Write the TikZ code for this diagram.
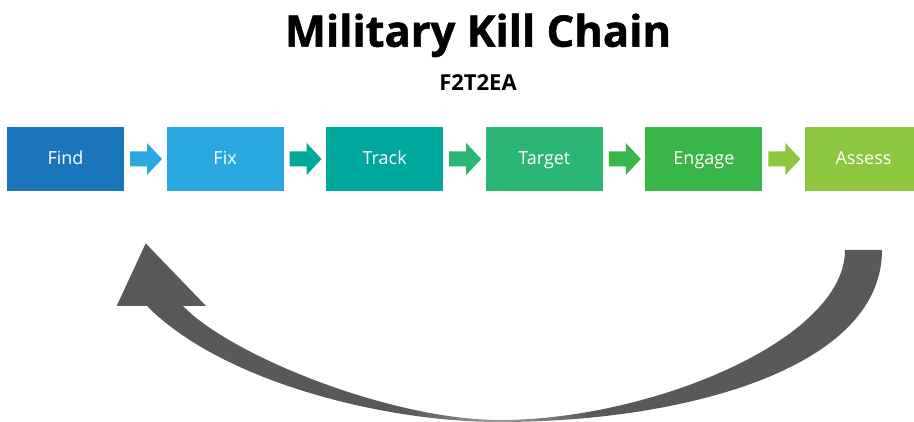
\documentclass[tikz,border=0pt]{standalone}
\usepackage{fontspec}
\setmainfont{Open Sans}
\newfontfamily\titlefont{Open Sans}[BoldFeatures={FakeBold=1.2}]
\usetikzlibrary{calc}
\definecolor{cFind}{HTML}{1B75BB}
\definecolor{cFix}{HTML}{29A9E0}
\definecolor{cTrack}{HTML}{00A79D}
\definecolor{cTarget}{HTML}{2BB673}
\definecolor{cEngage}{HTML}{39B54A}
\definecolor{cAssess}{HTML}{8DC63F}
\definecolor{ag}{HTML}{58595B}
\pgfdeclarehorizontalshading{arrowshade}{100bp}{color(0bp)=(ag); color(44bp)=(ag); color(50bp)=(ag!60!white); color(56bp)=(ag); color(100bp)=(ag)}
\tikzset{
  stepbox/.style={minimum width=117pt, minimum height=64pt, inner sep=0pt, outer sep=0pt,
    text height=14pt, text depth=3pt, text=white, font=\fontsize{18}{20}\selectfont},
}
\newcommand{\smallarrow}[3]{%
  \fill[#3] ($(#1.east)+(6,-7.5)$) -- ($(#1.east)+(23,-7.5)$) -- ($(#1.east)+(23,-16)$)
    -- ($(#1.east)+(38,0)$) -- ($(#1.east)+(23,16)$) -- ($(#1.east)+(23,7.5)$)
    -- ($(#1.east)+(6,7.5)$) -- cycle;}
\begin{document}
\begin{tikzpicture}[x=1pt,y=-1pt]
\useasboundingbox (0,0) rectangle (914,422);
\clip (0,0) rectangle (914,422);
\node[font=\fontsize{43.5}{48}\selectfont\titlefont\bfseries, anchor=base] (title) at (478,46.7) {Military Kill Chain};
\node[font=\fontsize{22}{24}\selectfont\bfseries, anchor=base] (sub) at (478,90.7) {F2T2EA};
\node[stepbox, fill=cFind, anchor=north west] (find) at (7,127) {Find};
\node[stepbox, fill=cFix, anchor=north west] (fix) at (166.6,127) {Fix};
\node[stepbox, fill=cTrack, anchor=north west] (track) at (326.2,127) {Track};
\node[stepbox, fill=cTarget, anchor=north west] (target) at (485.8,127) {Target};
\node[stepbox, fill=cEngage, anchor=north west] (engage) at (645.4,127) {Engage};
\node[stepbox, fill=cAssess, anchor=north west] (assess) at (805,127) {Assess};
\smallarrow{find}{fix}{cFix}
\smallarrow{fix}{track}{cTrack}
\smallarrow{track}{target}{cTarget}
\smallarrow{target}{engage}{cEngage}
\smallarrow{engage}{assess}{cAssess}
\coordinate (rs) at (882,250);
\coordinate (ri) at (845,250);
\coordinate (bot) at (500,422);
\coordinate (boti) at (500,420);
\coordinate (lo) at (147,306);
\coordinate (li) at (183,306);
\coordinate (hl) at (116.7,306);
\coordinate (hr) at (206,306);
\coordinate (tip) at (145.7,243.3);
\shade[shading=arrowshade] (rs) .. controls (882,370) and (680,422) .. (bot)
  .. controls (380,422) and (220,380) .. (lo) -- (hl) -- (tip) -- (hr) -- (li)
  .. controls (230,355) and (390,420) .. (boti)
  .. controls (650,420) and (845,340) .. (ri) -- cycle;
\end{tikzpicture}
\end{document}
